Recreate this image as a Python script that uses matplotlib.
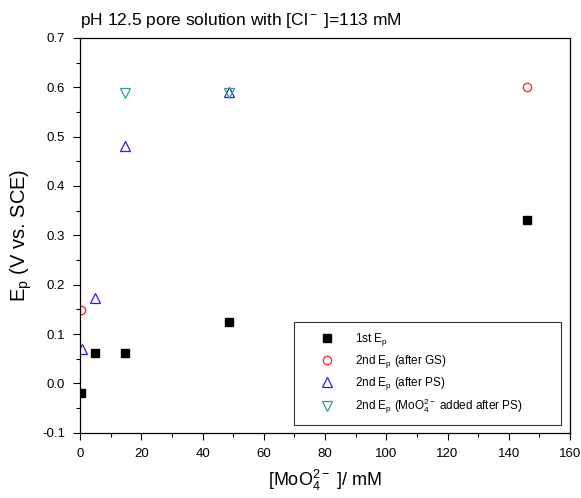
import matplotlib
matplotlib.use("Agg")
import matplotlib.pyplot as plt
from matplotlib.ticker import MultipleLocator

plt.rcParams.update({
    "font.family": ["Liberation Sans", "DejaVu Sans"],
    "mathtext.fontset": "custom",
    "mathtext.rm": "Liberation Sans",
    "mathtext.it": "Liberation Sans",
})

# series
first_x = [0.3, 5, 14.5, 48.5, 146]
first_y = [-0.02, 0.062, 0.062, 0.124, 0.331]
gs_x = [0.3, 146]
gs_y = [0.149, 0.60]
ps_x = [0.5, 5, 14.5, 48.5]
ps_y = [0.069, 0.172, 0.481, 0.59]
mo_x = [14.5, 48.5]
mo_y = [0.588, 0.588]

fig = plt.figure(figsize=(5.81, 4.98), dpi=100)
ax = fig.add_axes([0.138, 0.131, 0.843, 0.793])

ax.plot(first_x, first_y, ls="none", marker="s", ms=5.3, color="black",
        label="1st E$_\\mathrm{p}$")
ax.plot(gs_x, gs_y, ls="none", marker="o", ms=6, mfc="none", mec="#ff2020",
        mew=0.9, label="2nd E$_\\mathrm{p}$ (after GS)")
ax.plot(ps_x, ps_y, ls="none", marker="^", ms=7, mfc="none", mec="#2020ff",
        mew=0.9, label="2nd E$_\\mathrm{p}$ (after PS)")
ax.plot(mo_x, mo_y, ls="none", marker="v", ms=7, mfc="none", mec="#339999",
        mew=0.9, label="2nd E$_\\mathrm{p}$ (MoO$_4^{2-}$ added after PS)")

ax.set_xlim(0, 160)
ax.set_ylim(-0.1, 0.7)
ax.xaxis.set_major_locator(MultipleLocator(20))
ax.xaxis.set_minor_locator(MultipleLocator(10))
ax.yaxis.set_major_locator(MultipleLocator(0.1))
ax.yaxis.set_minor_locator(MultipleLocator(0.05))
ax.yaxis.set_major_formatter(plt.FuncFormatter(lambda v, p: f"{v:.1f}"))
ax.tick_params(which="both", direction="out", top=False, right=False,
               labelsize=9.5, colors="black", width=0.8)
ax.tick_params(which="major", length=5, pad=6)
ax.tick_params(which="minor", length=3)
for s in ax.spines.values():
    s.set_linewidth(0.9)

ax.set_xlabel("[MoO$_4^{2-}$ ]/ mM", fontsize=13, labelpad=6)
ax.set_ylabel("E$_\\mathrm{p}$ (V vs. SCE)", fontsize=14.5, labelpad=6)
ax.set_title("pH 12.5 pore solution with [Cl$^-$ ]=113 mM", fontsize=12.5,
             loc="left", x=0.0, pad=9)

leg = ax.legend(loc="lower left", bbox_to_anchor=(0.437, 0.02, 0.545, 0.25),
                mode="expand", fontsize=8.5, frameon=True, fancybox=False,
                edgecolor="black", borderpad=0.75, labelspacing=0.42,
                handlelength=4.0, handletextpad=0.4, borderaxespad=0)
leg.get_frame().set_linewidth(0.8)

fig.savefig("out.png", dpi=100)
